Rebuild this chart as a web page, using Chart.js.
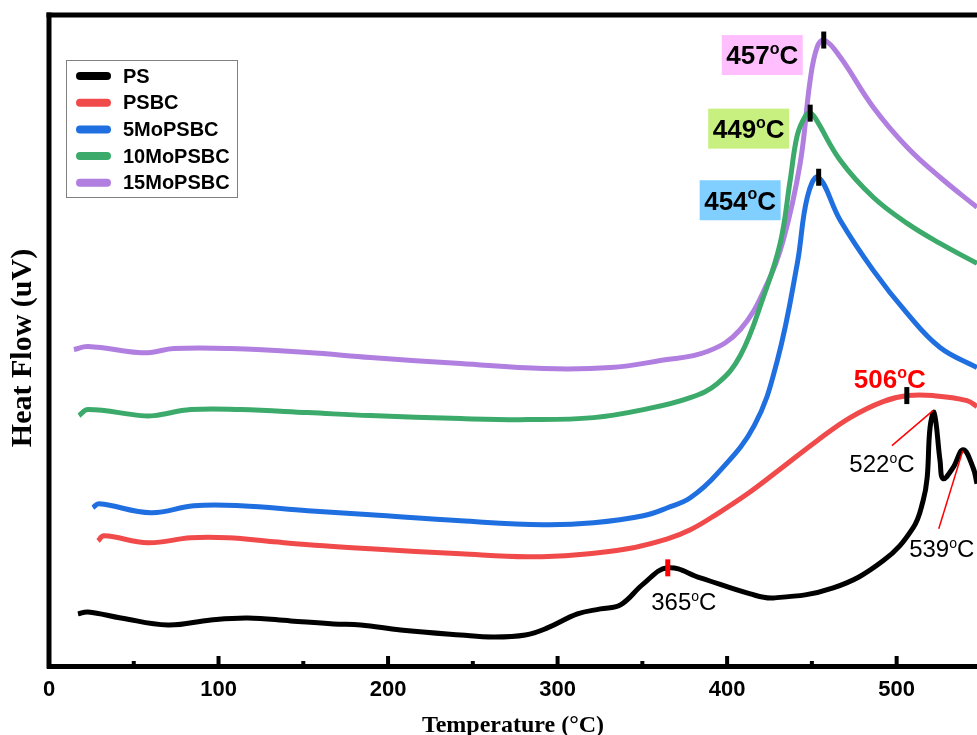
<!DOCTYPE html>
<html>
<head>
<meta charset="utf-8">
<script src="https://cdn.jsdelivr.net/npm/chart.js@4.4.0/dist/chart.umd.min.js"></script>
<style>
html, body { margin: 0; padding: 0; background: #fff; overflow: hidden; }
</style>
</head>
<body>
<canvas id="myChart" width="977" height="735"></canvas>
<script>
// series names (legend order)
var seriesNames = ['PS', 'PSBC', '5MoPSBC', '10MoPSBC', '15MoPSBC'];

// temperature (C) / heat flow (arbitrary)
var psTemp = [17.1, 23.0, 42.4, 70.1, 95.5, 117.3, 142.6, 167.9, 183.9, 207.4, 242.8, 262.0, 281.0, 294.0, 311.7, 325.3, 337.1, 350.6, 364.8, 384.2, 413.7, 427.2, 462.6, 492.0, 509.7, 515.6, 518.0, 519.7, 522.1, 525.6, 527.4, 533.3, 539.2, 545.1, 547.4];
var psHeat = [52, 54, 48, 41, 46, 48, 45, 42, 41, 36, 31, 29, 31, 38, 52, 57, 61, 82, 98, 88, 72, 68, 78, 105, 138, 165, 188, 238, 253, 205, 187, 198, 216, 198, 182];

var psbcTemp = [28.9, 32.4, 58.3, 83.7, 105.5, 132.6, 162.0, 189.7, 242.8, 282.3, 311.7, 341.2, 364.8, 378.3, 394.2, 413.7, 433.1, 453.1, 472.6, 492.0, 506.8, 521.5, 541.5, 547.4];
var psbcHeat = [125, 130, 123, 128, 128, 124, 120, 117, 112, 109, 111, 117, 127, 136, 152, 174, 199, 225, 248, 264, 270, 270, 265, 259];

var mo5Temp = [25.9, 29.5, 60.1, 85.4, 113.1, 152.6, 189.7, 242.8, 291.7, 321.2, 350.6, 364.8, 378.3, 394.2, 416.0, 429.6, 441.4, 447.3, 453.7, 466.7, 486.2, 506.2, 525.6, 547.4];
var mo5Heat = [158, 162, 153, 160, 160, 155, 151, 145, 141, 143, 150, 158, 168, 192, 240, 305, 402, 468, 488, 445, 395, 352, 318, 298];

var mo10Temp = [17.7, 23.0, 54.2, 61.9, 83.7, 113.1, 152.6, 189.7, 242.8, 282.3, 321.2, 350.6, 378.3, 394.2, 407.8, 421.3, 431.3, 437.2, 441.4, 446.1, 449.0, 452.0, 466.7, 486.2, 506.2, 525.6, 547.4];
var mo10Heat = [250, 256, 250, 250, 256, 256, 253, 250, 247, 246, 248, 256, 268, 282, 310, 368, 422, 485, 530, 549, 552, 547, 505, 468, 442, 422, 402];

var mo15Temp = [14.7, 23.0, 52.4, 60.1, 73.7, 107.2, 152.6, 189.7, 242.8, 291.7, 331.2, 360.6, 388.3, 407.8, 423.7, 433.1, 443.1, 449.0, 453.1, 457.3, 466.7, 486.2, 506.2, 525.6, 547.4];
var mo15Heat = [316, 319, 313, 313, 317, 317, 313, 308, 302, 297, 298, 305, 314, 336, 382, 425, 502, 585, 618, 625, 608, 558, 518, 488, 458];

// marked peaks
var peakTemps = [457, 449, 454, 506, 365];
var peakHeats = [625, 552, 488, 270, 98];
var psSideTemps = [522, 539];
var psSideHeats = [253, 216];

var xTicks = [0, 100, 200, 300, 400, 500];

function pts(t, h) {
    return t.map(function (v, i) { return { x: v, y: h[i] }; });
}

var colors = ['#000000', '#F04A4A', '#1F6FE0', '#3BAA6A', '#B07FE0'];
var allTemp = [psTemp, psbcTemp, mo5Temp, mo10Temp, mo15Temp];
var allHeat = [psHeat, psbcHeat, mo5Heat, mo10Heat, mo15Heat];

var SANS = '"Liberation Sans", Arial, sans-serif';
var SERIF = '"Liberation Serif", "Times New Roman", serif';

// draws "123" + superscript o + "C" centred on cx, cy
function degText(ctx, num, cx, cy, size, weight, color) {
    var big = weight + ' ' + size + 'px ' + SANS;
    var small = weight + ' ' + Math.round(size * 0.6) + 'px ' + SANS;
    ctx.font = big;
    var w1 = ctx.measureText(num).width;
    var w3 = ctx.measureText('C').width;
    ctx.font = small;
    var w2 = ctx.measureText('o').width;
    var x = cx - (w1 + w2 + w3) / 2;
    var base = cy + size * 0.36;
    ctx.fillStyle = color;
    ctx.textAlign = 'left';
    ctx.textBaseline = 'alphabetic';
    ctx.font = big;
    ctx.fillText(num, x, base);
    ctx.font = small;
    ctx.fillText('o', x + w1, base - size * 0.4);
    ctx.font = big;
    ctx.fillText('C', x + w1 + w2, base);
}

var extras = {
    id: 'extras',
    afterDraw: function (chart) {
        var ctx = chart.ctx, a = chart.chartArea;
        var xs = chart.scales.x, ys = chart.scales.y;
        ctx.save();
        ctx.fillStyle = '#000';
        // top and left frame
        ctx.fillRect(a.left - 2.5, a.top - 2.5, a.right - a.left + 3, 5);
        ctx.fillRect(a.left - 2.5, a.top - 2.5, 5, a.bottom - a.top + 5);
        // inner ticks
        xs.ticks.forEach(function (t) {
            var x = xs.getPixelForValue(t.value);
            var h = (t.value % 100 === 0) ? 10 : 5;
            ctx.fillRect(x - 2, a.bottom - h, 4, h);
        });

        // y title
        ctx.save();
        ctx.translate(23, 348);
        ctx.rotate(-Math.PI / 2);
        ctx.font = 'bold 30px ' + SERIF;
        ctx.textAlign = 'center';
        ctx.textBaseline = 'middle';
        ctx.fillText('Heat Flow (uV)', 0, 0);
        ctx.restore();

        // legend
        ctx.strokeStyle = '#808080';
        ctx.lineWidth = 1;
        ctx.strokeRect(66.5, 60.5, 171, 137);
        seriesNames.forEach(function (n, i) {
            var y = 76 + i * 26.7;
            ctx.strokeStyle = colors[i];
            ctx.lineWidth = 8;
            ctx.lineCap = 'round';
            ctx.beginPath();
            ctx.moveTo(80, y);
            ctx.lineTo(107, y);
            ctx.stroke();
            ctx.fillStyle = '#000';
            ctx.font = 'bold 20px ' + SANS;
            ctx.textAlign = 'left';
            ctx.textBaseline = 'middle';
            ctx.fillText(n, 123, y + 1);
        });
        ctx.lineCap = 'butt';

        // peak labels
        var specs = [
            { box: '#FFBFFF', dx: -61.5, dy: 15, mark: '#000' },
            { box: '#C8F080', dx: -61.5, dy: 15.5, mark: '#000' },
            { box: '#80CFFF', dx: -78.5, dy: 23, mark: '#000' },
            { text: '#FF0000', bold: true, dx: -17, dy: -17, mark: '#000' },
            { text: '#000', bold: false, dx: 16, dy: 34, mark: '#FF0000' }
        ];
        peakTemps.forEach(function (t, i) {
            var s = specs[i];
            var px = xs.getPixelForValue(t), py = ys.getPixelForValue(peakHeats[i]);
            ctx.fillStyle = s.mark;
            ctx.fillRect(px - 2.5, py - 8.5, 5, 17);
            var cx = px + s.dx, cy = py + s.dy;
            if (s.box) {
                ctx.fillStyle = s.box;
                ctx.fillRect(cx - 40.5, cy - 20, 81, 40);
                degText(ctx, String(t), cx, cy, 26, 'bold', '#000');
            } else {
                degText(ctx, String(t), cx, cy, s.bold ? 26 : 24, s.bold ? 'bold' : 'normal', s.text);
            }
        });

        // PS side peaks with red leader lines
        var side = [
            { tx: -52, ty: 51, l1: [-42, 33], l2: [-1, -2] },
            { tx: -21, ty: 99, l1: [-24, 79], l2: [0, 1] }
        ];
        psSideTemps.forEach(function (t, i) {
            var s = side[i];
            var px = xs.getPixelForValue(t), py = ys.getPixelForValue(psSideHeats[i]);
            ctx.strokeStyle = '#FF0000';
            ctx.lineWidth = 1.5;
            ctx.beginPath();
            ctx.moveTo(px + s.l1[0], py + s.l1[1]);
            ctx.lineTo(px + s.l2[0], py + s.l2[1]);
            ctx.stroke();
            degText(ctx, String(t), px + s.tx, py + s.ty, 24, 'normal', '#000');
        });
        ctx.restore();
    }
};

var ctx = document.getElementById('myChart').getContext('2d');
var myChart = new Chart(ctx, {
    type: 'line',
    data: {
        datasets: seriesNames.map(function (n, i) {
            return {
                label: n,
                data: pts(allTemp[i], allHeat[i]),
                borderColor: colors[i],
                backgroundColor: colors[i],
                borderWidth: 5,
                pointRadius: 0,
                tension: 0.4,
                fill: false
            };
        })
    },
    options: {
        responsive: false,
        animation: false,
        devicePixelRatio: 1,
        layout: { padding: { left: 49, top: 15, right: 0, bottom: -3 } },
        plugins: { legend: { display: false }, tooltip: { enabled: false } },
        scales: {
            x: {
                type: 'linear',
                min: 0,
                max: 547.4,
                afterBuildTicks: function (axis) {
                    var t = [];
                    for (var v = 0; v <= 500; v += 50) t.push({ value: v });
                    axis.ticks = t;
                },
                border: { display: true, color: '#000', width: 5 },
                grid: { display: true, drawOnChartArea: false, drawTicks: false },
                ticks: {
                    autoSkip: false,
                    maxRotation: 0,
                    padding: 13,
                    color: '#000',
                    font: { family: SANS, size: 22, weight: 'bold', lineHeight: 1 },
                    callback: function (v) { return xTicks.indexOf(v) >= 0 ? String(v) : ''; }
                },
                title: {
                    display: true,
                    text: 'Temperature (\u00B0C)',
                    color: '#000',
                    font: { family: SERIF, size: 24, weight: 'bold', lineHeight: 1 },
                    padding: { top: 0, bottom: 0 }
                }
            },
            y: { display: false, min: 0, max: 650 }
        }
    },
    plugins: [extras]
});
</script>
</body>
</html>
